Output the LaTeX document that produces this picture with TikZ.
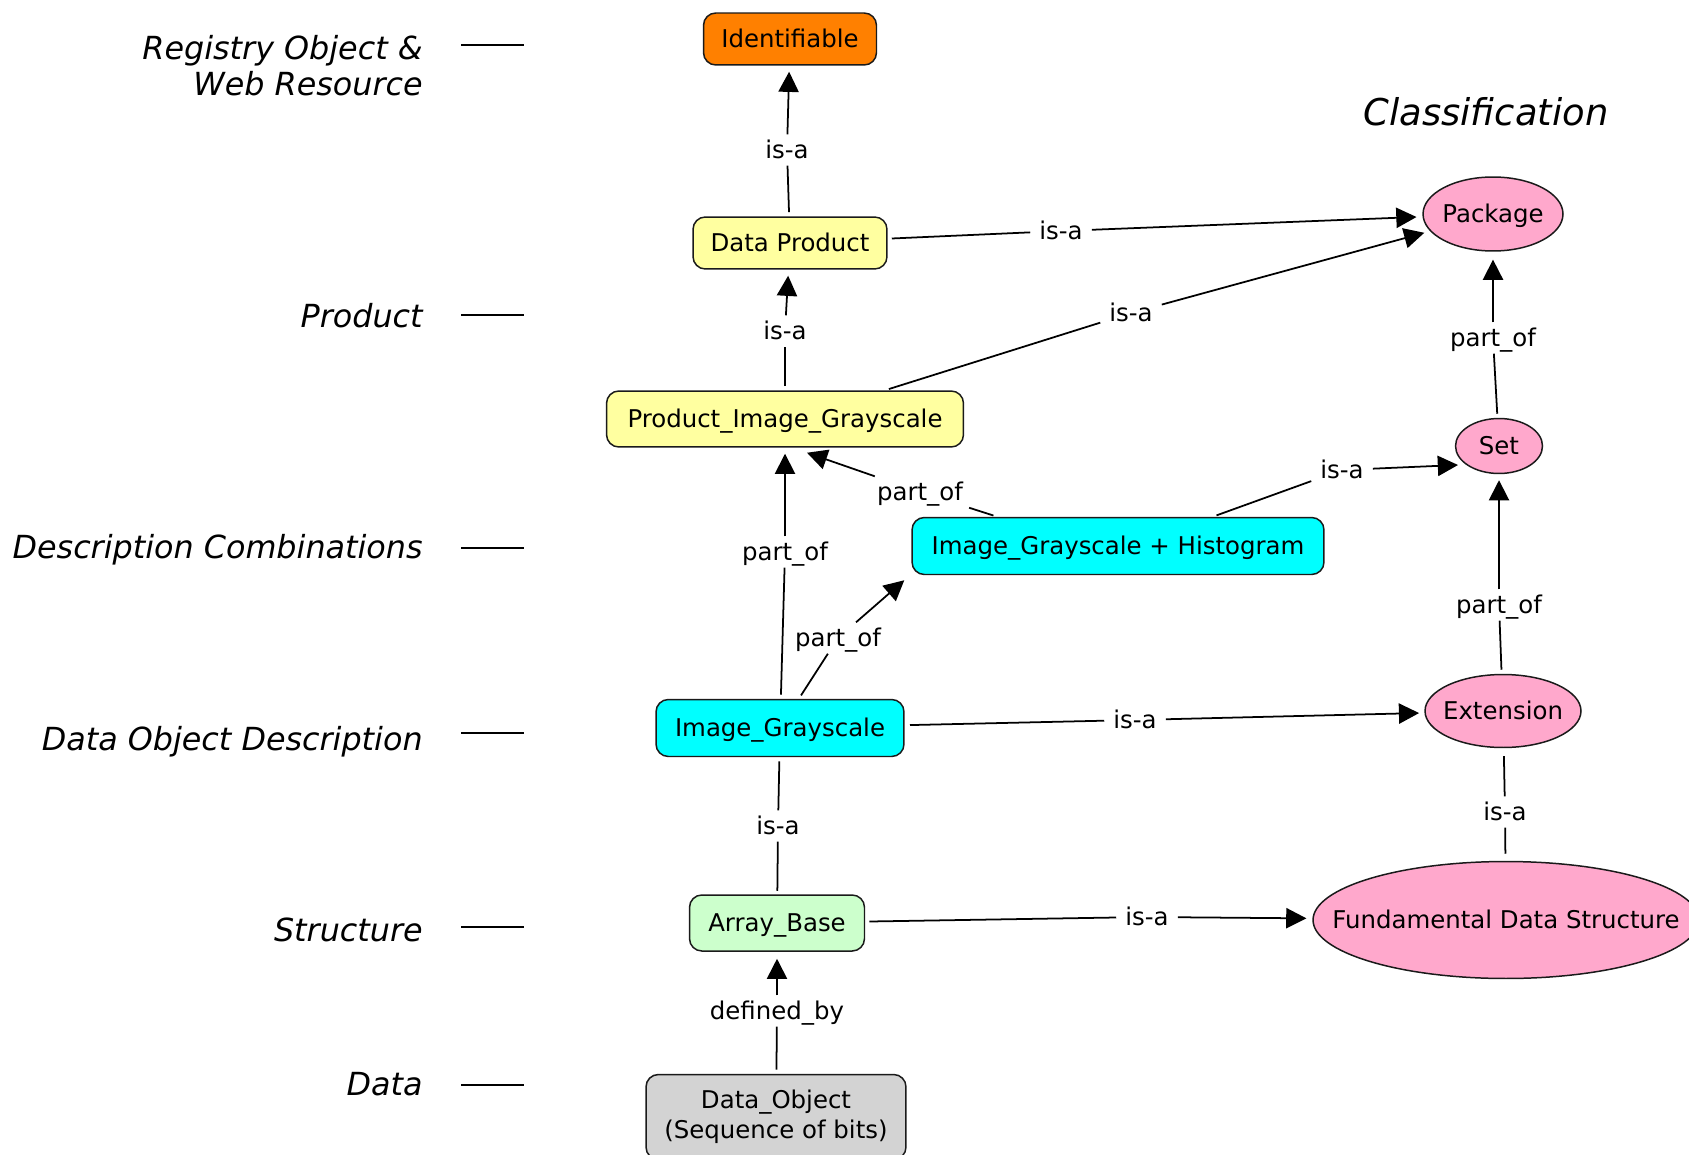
\documentclass[tikz,border=0pt]{standalone}
\usepackage{fontspec}
\setmainfont{DejaVu Sans}
\usetikzlibrary{shapes.geometric,arrows.meta,calc}

\definecolor{idorange}{HTML}{FF8000}
\definecolor{prodyellow}{HTML}{FFFFA0}
\definecolor{desccyan}{HTML}{00FFFF}
\definecolor{structgreen}{HTML}{CCFFCC}
\definecolor{datagray}{HTML}{D3D3D3}
\definecolor{classpink}{HTML}{FFA8CC}
\definecolor{outline}{HTML}{1A1A1A}

\newcommand\nodefont{\fontsize{13.9pt}{17pt}\selectfont}
\newcommand\levelfont{\fontsize{18.1pt}{21pt}\selectfont\itshape}
\newcommand\titlefont{\fontsize{21pt}{25pt}\selectfont\itshape}

\begin{document}
\begin{tikzpicture}[x=0.02cm,y=-0.02cm,
  box/.style={draw=outline, line width=0.85pt, rounded corners=7pt,
    inner sep=0pt, font=\nodefont},
  oneline/.style={text height=12pt, text depth=2.5pt},
  classnode/.style={ellipse, draw=outline, line width=0.85pt,
    fill=classpink, inner sep=0pt, font=\nodefont, oneline},
  phrase/.style={inner xsep=5pt, inner ysep=1.5pt, font=\nodefont, oneline},
  link/.style={line width=1pt, shorten <=2.3pt},
  arrowlink/.style={line width=1pt, -{Triangle[length=11.5pt,width=11.5pt]},
    shorten >=3.4pt},
  level/.style={anchor=base east, inner sep=0pt, font=\levelfont},
  tick/.style={line width=1pt}
]
\useasboundingbox (0,0) rectangle (1689,1155);

% level legend on the left
\node[level, align=right] (lvreg) at (423,96)
  {Registry Object \&\\Web Resource};
\node[level] (lvprod) at (423,328) {Product};
\node[level] (lvcomb) at (423,558) {Description Combinations};
\node[level] (lvdesc) at (423,750) {Data Object Description};
\node[level] (lvstruct) at (423,941) {Structure};
\node[level] (lvdata) at (423,1095) {Data};
\draw[tick] (461,45) -- (524,45);
\draw[tick] (461,315) -- (524,315);
\draw[tick] (461,548) -- (524,548);
\draw[tick] (461,733) -- (524,733);
\draw[tick] (461,927) -- (524,927);
\draw[tick] (461,1085) -- (524,1085);

\node[anchor=base, inner sep=0pt, font=\titlefont] (classtitle) at (1486,126)
  {Classification};

% concepts
\node[box, oneline, fill=idorange, minimum width=3.46cm, minimum height=1.04cm]
  (ident) at (790,39) {Identifiable};
\node[box, oneline, fill=prodyellow, minimum width=3.88cm, minimum height=1.04cm]
  (dp) at (790,243) {Data Product};
\node[box, oneline, fill=prodyellow, minimum width=7.14cm, minimum height=1.12cm]
  (pig) at (785,419) {Product\_Image\_Grayscale};
\node[box, oneline, fill=desccyan, minimum width=8.24cm, minimum height=1.14cm]
  (igh) at (1118,546) {Image\_Grayscale + Histogram};
\node[box, oneline, fill=desccyan, minimum width=4.96cm, minimum height=1.14cm]
  (ig) at (780,728) {Image\_Grayscale};
\node[box, oneline, fill=structgreen, minimum width=3.50cm, minimum height=1.12cm]
  (ab) at (777,923) {Array\_Base};
\node[box, fill=datagray, align=center, minimum width=5.20cm, minimum height=1.70cm]
  (do) at (776,1117) {Data\_Object\\(Sequence of bits)};

\node[classnode, minimum width=2.80cm, minimum height=1.48cm]
  (pkg) at (1493,214) {\makebox[0pt]{Package}};
\node[classnode, minimum width=1.74cm, minimum height=1.10cm]
  (set) at (1499,446) {\makebox[0pt]{Set}};
\node[classnode, minimum width=3.12cm, minimum height=1.46cm]
  (ext) at (1503,711) {\makebox[0pt]{Extension}};
\node[classnode, minimum width=7.72cm, minimum height=2.34cm]
  (fds) at (1506,920) {\makebox[0pt]{Fundamental Data Structure}};

% linking phrases
\node[phrase] (l1) at (787,150) {is-a};
\node[phrase] (l2) at (1061,231) {is-a};
\node[phrase] (l3) at (1131,313) {is-a};
\node[phrase] (l4) at (785,331) {is-a};
\node[phrase] (l5) at (1493,338) {part\_of};
\node[phrase] (l6) at (920,492) {part\_of};
\node[phrase] (l7) at (1342,470) {is-a};
\node[phrase] (l8) at (785,552) {part\_of};
\node[phrase] (l9) at (838,638) {part\_of};
\node[phrase] (l10) at (1135,720) {is-a};
\node[phrase] (l11) at (1499,605) {part\_of};
\node[phrase] (l12) at (778,826) {is-a};
\node[phrase] (l13) at (1505,812) {is-a};
\node[phrase] (l14) at (1147,917) {is-a};
\node[phrase] (l15) at (777,1011) {defined\_by};

% connections
\draw[link] (dp) -- (l1);
\draw[arrowlink] (l1) -- (ident);

\draw[link] (dp) -- (l2);
\draw[arrowlink] (l2) -- (pkg);

\draw[link] ($(pig.north)+(100,0)$) -- (l3);
\draw[arrowlink] (l3) -- (pkg);

\draw[link] (pig) -- (l4);
\draw[arrowlink] (l4) -- (dp);

\draw[link] (set) -- (l5);
\draw[arrowlink, shorten >=4.5pt] (l5) -- (pkg);

\draw[link] ($(igh.north west)+(86,0)$) -- (l6);
\draw[arrowlink, shorten >=0pt] (l6) -- ($(pig.south)+(22,5)$);

\draw[link] ($(igh.north east)+(-112,0)$) -- (l7);
\draw[arrowlink, shorten >=0pt] (l7) -- ($(set.center)+(-41,19)$);

\draw[link] (ig) -- (l8);
\draw[arrowlink] (l8) -- (pig);

\draw[link] (ig) -- (l9);
\draw[arrowlink, shorten >=0pt] (l9) -- ($(igh.south west)+(-7,5)$);

\draw[link, shorten <=3pt] (ig) -- (l10);
\draw[arrowlink, shorten >=3pt] (l10) -- (ext);

\draw[link] (ext) -- (l11);
\draw[arrowlink] (l11) -- (set);

\draw[link] (ig) -- (l12);
\draw[link, shorten <=0pt, shorten >=2pt] (l12) -- (ab);

\draw[link, shorten <=4.5pt] (ext) -- (l13);
\draw[link, shorten <=0pt, shorten >=4pt] (l13) -- (fds);

\draw[link] (ab) -- (l14);
\draw[arrowlink] (l14) -- (fds);

\draw[link] (do) -- (l15);
\draw[arrowlink, shorten >=4pt] (l15) -- (ab);
\end{tikzpicture}
\end{document}
